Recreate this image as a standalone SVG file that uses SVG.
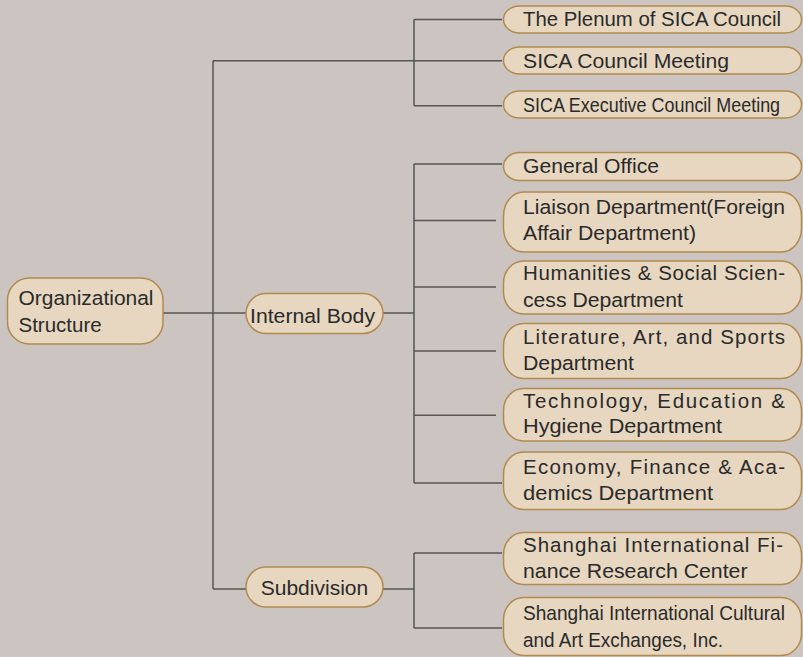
<svg xmlns="http://www.w3.org/2000/svg" width="803" height="657" viewBox="0 0 803 657">
<style>
.bg{fill:#cbc4c1}
.box{fill:#e7d7c0;stroke:#b28a4e;stroke-width:1.5}
.t{font-family:"Liberation Sans",Arial,sans-serif;font-size:20.5px;fill:#2a2a2a}
.c{fill:none;stroke:#555;stroke-width:1.5}
</style>
<rect class="bg" x="0" y="0" width="803" height="657"/>
<g id="connectors">
<path class="c" d="M213,60.7 V589 M213,60.7 H502 M414,19.5 V105.7 M414,19.5 H502 M414,105.7 H502"/>
<path class="c" d="M163,313 H246 M383,313 H414 M414,164 V483 M414,164 H502 M414,220.5 H496 M414,287 H496 M414,351 H496 M414,415.3 H496 M414,483 H502"/>
<path class="c" d="M213,589 H246 M383,589 H414 M414,553 V628 M414,553 H502 M414,628 H502"/>
</g>
<g id="organizational-structure">
<rect class="box" x="7.5" y="278" width="155.5" height="66" rx="22" ry="22"/>
<text class="t" x="18.5" y="305" textLength="135" lengthAdjust="spacingAndGlyphs">Organizational</text>
<text class="t" x="18.5" y="331.5">Structure</text>
</g>
<g id="internal-body">
<rect class="box" x="246" y="293.5" width="137" height="40" rx="20" ry="20"/>
<text class="t" x="250" y="323" textLength="125" lengthAdjust="spacingAndGlyphs">Internal Body</text>
</g>
<g id="subdivision">
<rect class="box" x="246" y="567" width="137" height="40" rx="20" ry="20"/>
<text class="t" x="260.7" y="595" textLength="107.5" lengthAdjust="spacingAndGlyphs">Subdivision</text>
</g>
<g id="plenum">
<rect class="box" x="503.5" y="6" width="298" height="27" rx="16" ry="13.5"/>
<text class="t" x="523" y="26" textLength="258" lengthAdjust="spacingAndGlyphs">The Plenum of SICA Council</text>
</g>
<g id="council-meeting">
<rect class="box" x="503.5" y="47" width="298" height="27" rx="16" ry="13.5"/>
<text class="t" x="523" y="68" textLength="206" lengthAdjust="spacingAndGlyphs">SICA Council Meeting</text>
</g>
<g id="executive-council-meeting">
<rect class="box" x="503.5" y="91" width="298" height="27" rx="16" ry="13.5"/>
<text class="t" transform="translate(523,111.5) scale(0.875,1)" x="0" y="0">SICA Executive Council Meeting</text>
</g>
<g id="general-office">
<rect class="box" x="503.5" y="152.5" width="298" height="28" rx="16" ry="14"/>
<text class="t" x="523" y="173.3" textLength="136" lengthAdjust="spacingAndGlyphs">General Office</text>
</g>
<g id="liaison">
<rect class="box" x="503.5" y="192" width="298" height="60" rx="20" ry="24"/>
<text class="t" x="523" y="214" textLength="262" lengthAdjust="spacingAndGlyphs">Liaison Department(Foreign</text>
<text class="t" x="523" y="240" textLength="173" lengthAdjust="spacingAndGlyphs">Affair Department)</text>
</g>
<g id="humanities">
<rect class="box" x="503.5" y="261" width="298" height="53" rx="20" ry="22"/>
<text class="t" x="523" y="280" textLength="262" lengthAdjust="spacing">Humanities &amp; Social Scien-</text>
<text class="t" x="523" y="306.5" textLength="160" lengthAdjust="spacingAndGlyphs">cess Department</text>
</g>
<g id="literature">
<rect class="box" x="503.5" y="323.5" width="298" height="55" rx="20" ry="22"/>
<text class="t" x="523" y="344" textLength="262" lengthAdjust="spacing">Literature, Art, and Sports</text>
<text class="t" x="523" y="370" textLength="111" lengthAdjust="spacingAndGlyphs">Department</text>
</g>
<g id="technology">
<rect class="box" x="503.5" y="388.5" width="298" height="52.5" rx="20" ry="22"/>
<text class="t" x="523" y="408.3" textLength="262" lengthAdjust="spacing">Technology, Education &amp;</text>
<text class="t" x="523" y="433.3" textLength="199" lengthAdjust="spacingAndGlyphs">Hygiene Department</text>
</g>
<g id="economy">
<rect class="box" x="503.5" y="452" width="298" height="57.5" rx="20" ry="22"/>
<text class="t" x="523" y="474" textLength="262" lengthAdjust="spacing">Economy, Finance &amp; Aca-</text>
<text class="t" x="523" y="500" textLength="190" lengthAdjust="spacingAndGlyphs">demics Department</text>
</g>
<g id="finance-research-center">
<rect class="box" x="503.5" y="532.5" width="298" height="52" rx="20" ry="22"/>
<text class="t" x="523" y="552.3" textLength="260" lengthAdjust="spacing">Shanghai International Fi-</text>
<text class="t" x="523" y="578.3" textLength="224.5" lengthAdjust="spacingAndGlyphs">nance Research Center</text>
</g>
<g id="cultural-exchanges">
<rect class="box" x="503.5" y="597.5" width="298" height="58" rx="20" ry="22"/>
<text class="t" transform="translate(523,620) scale(0.931,1)" x="0" y="0">Shanghai International Cultural</text>
<text class="t" transform="translate(523,646.5) scale(0.924,1)" x="0" y="0">and Art Exchanges, Inc.</text>
</g>
</svg>
